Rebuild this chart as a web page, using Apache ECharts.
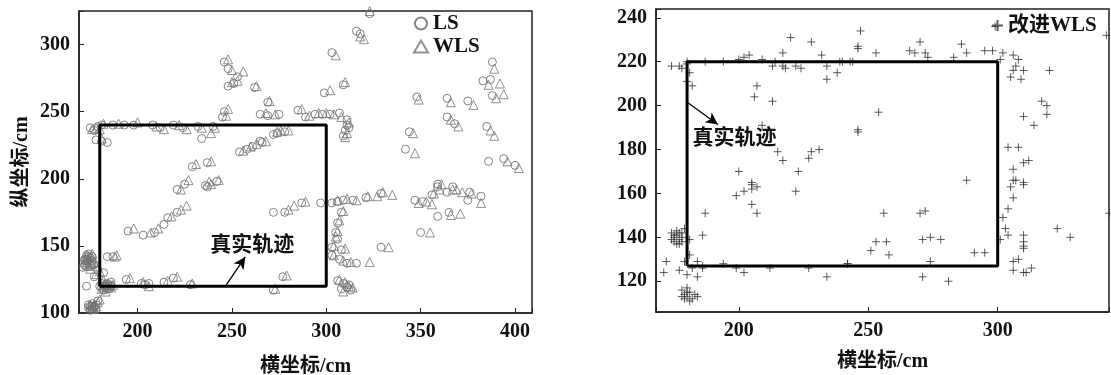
<!DOCTYPE html>
<html>
<head>
<meta charset="utf-8">
<script src="https://cdn.jsdelivr.net/npm/echarts@6/dist/echarts.min.js"></script>
<style>
  html, body { margin: 0; padding: 0; background: #fff; }
  #chart { width: 1111px; height: 375px; }
</style>
</head>
<body>
<div id="chart"></div>
<script>
// 左图：LS 与 WLS 定位结果 (cm)
const lsPoints = [
  [175,238],[177,236],[179,239],[181,240],[178,229],[181,228],[184,227],
  [187,240],[193,240],[198,240],[208,240],[212,238],[219,240],[224,238],[232,239],[240,239],[234,230],
  [246,287],[248,282],[248,269],[251,271],[253,276],[262,268],[246,250],[245,246],[269,257],
  [229,209],[237,212],[254,220],[258,222],[261,224],[266,227],[272,233],[236,195],[242,198],
  [265,248],[269,247],[275,248],[285,251],[289,246],[294,248],[298,248],[302,248],[307,249],
  [310,236],[311,240],[309,232],[311,244],[312,238],
  [265,228],[274,234],[278,235],
  [323,323],[316,310],[318,308],[303,294],[299,264],[309,270],
  [348,261],[364,260],[375,258],[388,287],[383,273],[387,274],[388,262],[364,246],[368,241],[385,239],
  [344,235],[342,222],[386,213],[394,215],[400,210],[359,196],[367,194],
  [221,192],[225,196],[237,194],[221,175],[216,171],[214,166],[209,160],[203,158],[195,161],
  [184,142],[187,142],[173,120],[177,127],[179,132],[182,130],
  [172,140],[173,137],[174,142],[175,135],[176,139],[173,143],[177,136],[171,134],
  [172,139],[174,138],[175,141],[176,136],[173,140],[174,144],[176,142],[172,136],
  [181,122],[183,119],[185,121],[182,117],[186,123],[184,118],[180,120],
  [182,120],[184,122],[183,121],[185,118],[181,119],[186,120],
  [174,104],[176,107],[178,103],[175,102],[177,105],[179,109],
  [175,105],[176,103],[177,104],[174,106],[176,105],[178,106],
  [194,125],[202,122],[204,121],[206,122],[214,123],[219,126],[228,121],
  [272,175],[278,175],[287,182],[297,182],[303,182],[306,183],[309,184],[314,184],[321,186],[329,189],
  [308,175],[306,167],[305,160],[306,155],[303,149],[308,147],[303,143],[307,140],[311,137],[316,137],
  [329,149],
  [306,124],[309,122],[311,119],[308,118],[312,121],[313,117],
  [277,127],[272,117],
  [347,184],[351,183],[356,188],[359,194],[364,190],[376,190],[375,184],[382,187],[359,172],[365,175],[350,160]
];
const wlsPoints = [
  [176,237],[178,238],[180,237],[182,241],[181,230],
  [190,241],[200,242],[210,239],[214,237],[222,240],[226,237],[234,238],[241,238],[239,234],
  [248,289],[250,281],[250,272],[253,273],[256,280],[263,269],[248,252],[247,247],[270,258],
  [231,211],[239,213],[256,221],[260,224],[263,226],[268,228],[274,235],[238,198],[243,199],
  [268,249],[273,248],[287,252],[291,247],[296,249],[300,249],[304,248],[308,246],
  [311,234],[312,242],[310,231],
  [276,236],[280,236],
  [323,325],[318,306],[320,304],[305,292],[302,266],[310,272],
  [349,259],[366,257],[378,255],[389,282],[386,270],[392,271],[390,260],[394,263],[366,244],[370,239],
  [387,236],[389,232],[346,234],[347,219],[396,213],[402,208],[361,196],[369,192],
  [223,192],[227,199],[239,196],[226,180],[223,177],[218,172],[211,163],[207,160],[198,163],
  [188,142],[189,143],[178,129],[180,131],
  [172,138],[174,141],[175,133],[176,144],[177,138],[174,135],
  [173,142],[175,139],[176,137],[173,136],
  [182,124],[184,121],[186,119],[183,116],[187,121],[181,118],
  [183,122],[185,120],[182,119],
  [175,106],[177,103],[179,108],[180,110],
  [176,104],[178,105],
  [196,126],[203,123],[206,120],[216,124],[221,127],[229,122],
  [280,177],[283,180],[289,183],[306,184],[311,185],[316,184],[322,187],[327,187],[330,190],[335,188],
  [309,176],[307,169],[306,161],[305,157],[304,150],[310,148],[304,143],[309,139],[313,138],[323,138],
  [333,149],
  [307,125],[310,123],[312,120],[309,116],[314,119],
  [279,128],[273,118],
  [349,182],[353,183],[357,189],[360,192],[356,181],[367,192],[372,190],[377,189],[382,182],[366,173],[371,174],[355,160]
];

// 右图：改进WLS 定位结果 (cm)
const improvedPoints = [
  [174,218],[177,218],[178,217],[180,219],[180,220],[180,211],[181,215],[182,209],
  [187,220],[194,220],[200,221],[202,222],[204,223],[209,221],[213,218],[214,220],[217,218],[218,217],
  [217,224],[222,218],[224,217],[220,231],[228,229],[232,223],[234,218],[238,215],[234,212],[240,220],
  [244,220],[246,226],[246,188],
  [207,209],[206,204],[213,202],[209,191],[215,179],[217,175],[228,179],[231,180],[227,176],[223,170],
  [200,170],[205,165],[207,163],
  [199,159],[202,161],[205,164],[205,162],[205,155],[207,151],[222,161],[187,151],[186,141],
  [174,142],[175,140],[176,141],[177,139],[178,142],[175,138],[176,143],[177,137],[178,140],[179,144],
  [174,139],[176,137],[178,138],[175,141],[177,142],
  [181,139],[172,129],[171,124],[177,125],[179,129],[181,132],[182,126],[180,123],[184,129],[184,122],
  [186,127],[186,126],
  [178,116],[179,114],[180,113],[181,115],[182,112],[179,112],[180,117],[181,111],[183,114],[178,113],
  [180,115],[184,113],
  [194,128],[199,126],[202,124],[212,126],[227,126],[234,122],[242,128],
  [247,234],[246,227],[253,224],[270,229],[266,225],[268,224],[272,224],[273,222],[286,228],[288,224],
  [283,222],[295,225],[298,225],[302,224],[301,221],[306,223],[308,221],[307,218],[310,216],[306,216],
  [305,213],[309,212],[320,216],[299,236],[342,232],[239,220],[243,220],
  [254,197],[246,189],[317,202],[319,200],[319,196],[310,195],[314,191],[304,181],[308,181],[310,174],
  [312,175],[306,171],[306,166],[310,165],[288,166],
  [307,166],[310,164],[305,163],[306,158],[304,153],[302,149],[303,144],[301,139],[304,141],[310,141],
  [310,138],[310,136],[310,135],[308,130],[306,129],[306,125],[310,124],[311,124],[313,126],
  [256,151],[270,151],[272,152],[253,138],[257,138],[251,134],[258,132],[271,139],[274,140],[278,139],
  [291,133],[295,133],[242,128],[274,129],[271,122],[281,120],[323,144],[328,140],[343,151]
];

// 真实轨迹（矩形）
const trackLeft = [[180,120],[300,120],[300,240],[180,240],[180,120]];
const trackRight = [[180,127],[300,127],[300,220],[180,220],[180,127]];

const FONT = "'Liberation Serif', 'Noto Sans CJK SC', serif";
const plusIcon = 'path://M5,0L5,10M0,5L10,5';

const chart = echarts.init(document.getElementById('chart'));

function axisBase(min, max, split, step) {
  return {
    type: 'value',
    min: min,
    max: max,
    splitNumber: split,
    axisLine: {show: true, lineStyle: {color: '#222', width: 1.5}},
    axisTick: {show: true, inside: true, length: 5, lineStyle: {color: '#222'}},
    splitLine: {show: false},
    axisLabel: {
      color: '#111', fontFamily: FONT, fontWeight: 'bold', fontSize: 20, margin: 9,
      formatter: v => (v % step === 0 ? String(v) : '')
    },
    nameTextStyle: {color: '#111', fontFamily: FONT, fontWeight: 'bold', fontSize: 20}
  };
}

const xLeft = Object.assign(axisBase(169, 409, 5, 50), {gridIndex: 0, name: '横坐标/cm', nameLocation: 'middle', nameGap: 44});
const yLeft = Object.assign(axisBase(100, 325, 5, 50), {gridIndex: 0, name: '纵坐标/cm', nameLocation: 'middle', nameGap: 47, nameRotate: 90});
const xRight = Object.assign(axisBase(168, 343, 4, 50), {gridIndex: 1, name: '横坐标/cm', nameLocation: 'middle', nameGap: 40});
const yRight = Object.assign(axisBase(106, 244, 7, 20), {gridIndex: 1});

const arrowStyle = {color: '#000', width: 1.3, type: 'solid'};
const noteLabel = {show: true, formatter: '真实轨迹', color: '#111', fontFamily: FONT, fontWeight: 'bold', fontSize: 21};

chart.setOption({
  animation: false,
  backgroundColor: '#fff',
  grid: [
    {left: 79, top: 11, width: 453, height: 302, show: true, borderColor: '#222', borderWidth: 1.5,
     backgroundColor: 'transparent', outerBoundsMode: 'none', containLabel: false},
    {left: 656, top: 9, width: 453, height: 303, show: true, borderColor: '#222', borderWidth: 1.5,
     backgroundColor: 'transparent', outerBoundsMode: 'none', containLabel: false}
  ],
  xAxis: [xLeft, xRight],
  yAxis: [yLeft, yRight],
  legend: [
    {
      data: ['LS', 'WLS'], orient: 'vertical', left: 408, top: 8, itemGap: 2,
      itemWidth: 14, itemHeight: 12,
      textStyle: {color: '#111', fontFamily: FONT, fontWeight: 'bold', fontSize: 21}
    },
    {
      data: [{name: '改进WLS', icon: plusIcon}], left: 986, top: 10,
      itemWidth: 11, itemHeight: 11,
      textStyle: {color: '#111', fontFamily: FONT, fontWeight: 'bold', fontSize: 21}
    }
  ],
  series: [
    {
      name: 'LS', type: 'scatter', xAxisIndex: 0, yAxisIndex: 0, data: lsPoints,
      symbol: 'circle', symbolSize: 8,
      itemStyle: {color: 'rgba(0,0,0,0)', borderColor: '#666', borderWidth: 1}
    },
    {
      name: 'WLS', type: 'scatter', xAxisIndex: 0, yAxisIndex: 0, data: wlsPoints,
      symbol: 'triangle', symbolSize: 9,
      itemStyle: {color: 'rgba(0,0,0,0)', borderColor: '#777', borderWidth: 1}
    },
    {
      name: '真实轨迹L', type: 'line', xAxisIndex: 0, yAxisIndex: 0, data: trackLeft,
      symbol: 'none', lineStyle: {color: '#000', width: 3}, z: 3,
      markLine: {
        silent: true, symbol: ['none', 'arrow'], symbolSize: [9, 12], label: {show: false},
        lineStyle: arrowStyle,
        data: [[{coord: [246.6, 120]}, {coord: [257.1, 141.8]}]]
      },
      markPoint: {
        silent: true, symbol: 'rect', symbolSize: 1, itemStyle: {color: 'rgba(0,0,0,0)'},
        label: noteLabel,
        data: [{coord: [260.8, 150]}]
      }
    },
    {
      name: '改进WLS', type: 'scatter', xAxisIndex: 1, yAxisIndex: 1, data: improvedPoints,
      symbol: plusIcon, symbolSize: 8,
      itemStyle: {color: 'rgba(0,0,0,0)', borderColor: '#333', borderWidth: 1}
    },
    {
      name: '真实轨迹R', type: 'line', xAxisIndex: 1, yAxisIndex: 1, data: trackRight,
      symbol: 'none', lineStyle: {color: '#000', width: 3}, z: 3,
      markLine: {
        silent: true, symbol: ['none', 'arrow'], symbolSize: [9, 12], label: {show: false},
        lineStyle: arrowStyle,
        data: [[{coord: [180.2, 201.4]}, {coord: [191.9, 191.4]}]]
      },
      markPoint: {
        silent: true, symbol: 'rect', symbolSize: 1, itemStyle: {color: 'rgba(0,0,0,0)'},
        label: noteLabel,
        data: [{coord: [198.3, 185.2]}]
      }
    }
  ]
});
</script>
</body>
</html>
